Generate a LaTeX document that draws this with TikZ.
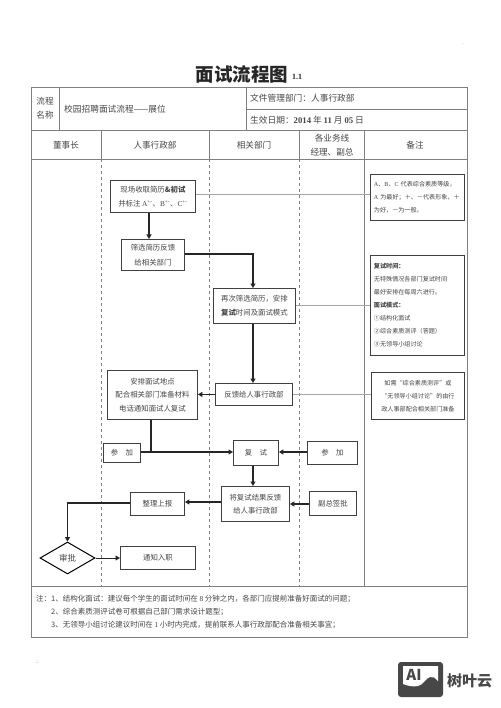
\documentclass[tikz,border=0pt]{standalone}
\usepackage{fontspec}
\setmainfont{Noto Sans CJK SC}
\newfontfamily\latinf{Liberation Serif}
\usetikzlibrary{arrows.meta,shapes.geometric}
\definecolor{ink}{gray}{0.27}
\definecolor{rule}{gray}{0.50}
\newcommand{\gradesup}{\textsuperscript{\latinf +-}}
\tikzset{
  cell/.style={text=ink,font=\fontsize{8.6}{10}\selectfont,align=center,inner sep=0pt},
  leftcell/.style={text=ink,font=\fontsize{8.7}{10}\selectfont,align=left,anchor=west,inner sep=0pt},
  flowbox/.style={draw=black!75,line width=0.9pt,fill=white,text=ink,font=\fontsize{7.4}{13.5}\selectfont,align=center,inner sep=0pt,anchor=north west},
  notebox/.style={draw=black!75,line width=0.9pt,fill=white,text=ink,font=\fontsize{6.1}{13}\selectfont,align=left,inner sep=0pt,anchor=north west},
  tab/.style={draw=rule,line width=0.8pt},
  lane/.style={draw=rule,line width=0.8pt,dash pattern=on 3pt off 3pt},
  flow/.style={draw=black!85,line width=1.2pt,-{Triangle[length=4.5pt,width=5pt]}},
  plainflow/.style={draw=black!85,line width=1.2pt},
  guide/.style={draw=black!35,line width=0.5pt},
  footnotetext/.style={anchor=west,inner sep=0pt,text=ink,font=\fontsize{7.5}{9}\selectfont},
}
\begin{document}
\begin{tikzpicture}[x=1pt,y=-1pt]
\useasboundingbox (0,0) rectangle (500,708);
% title
\node[inner sep=0pt,text=black!85,font=\fontsize{18.5}{20}\bfseries\selectfont] (title) at (242,74) {面试流程图};
\node[inner sep=0pt,anchor=west,text=black!85,font=\fontsize{8}{9}\bfseries\latinf\selectfont] (ver) at (292,77) {1.1};
% table
\draw[tab] (31,87) rectangle (467,637);
\draw[tab] (31,130) -- (467,130);
\draw[tab] (31,159) -- (467,159);
\draw[tab] (31,586) -- (467,586);
\draw[tab] (59,87) -- (59,130);
\draw[tab] (246,87) -- (246,130);
\draw[tab] (246,109) -- (467,109);
\draw[tab] (101,130) -- (101,159);
\draw[tab] (209,130) -- (209,159);
\draw[tab] (299,130) -- (299,159);
\draw[tab] (364,130) -- (364,586);
\draw[lane] (101,159) -- (101,586);
\draw[lane] (209,159) -- (209,586);
\draw[lane] (299,159) -- (299,586);
% header cells
\node[cell,font=\fontsize{8.6}{14}\selectfont] (h0) at (45,108.5) {流程\\名称};
\node[leftcell] (h1) at (64,109) {校园招聘面试流程——展位};
\node[leftcell] (h2) at (250,98) {文件管理部门：人事行政部};
\node[leftcell] (h3) at (250,120) {生效日期：{\latinf\bfseries 2014} 年 {\latinf\bfseries 11} 月 {\latinf\bfseries 05} 日};
\node[cell] (c1) at (66,145) {董事长};
\node[cell] (c2) at (155,145) {人事行政部};
\node[cell] (c3) at (254,145) {相关部门};
\node[cell,font=\fontsize{8.6}{14}\selectfont] (c4) at (332,145) {各业务线\\经理、副总};
\node[cell] (c5) at (415,145) {备注};
% flow boxes
\node[flowbox,minimum width=85pt,minimum height=32pt] (b1) at (110,180) {现场收取简历\textbf{\&初试}\\并标注 {\latinf A}\gradesup、{\latinf B}\gradesup、{\latinf C}\gradesup};
\node[flowbox,minimum width=63pt,minimum height=31pt,font=\fontsize{7.4}{15}\selectfont] (b2) at (121,239) {筛选简历反馈\\给相关部门};
\node[flowbox,minimum width=82pt,minimum height=35pt] (b3) at (213,288) {再次筛选简历，安排\\\textbf{复试}时间及面试模式};
\node[flowbox,minimum width=77pt,minimum height=22pt] (b4) at (215,383) {反馈给人事行政部};
\node[flowbox,minimum width=90pt,minimum height=49pt] (b5) at (107,370) {安排面试地点\\配合相关部门准备材料\\电话通知面试人复试};
\node[flowbox,minimum width=37pt,minimum height=19pt] (b6) at (103,443) {参\quad 加};
\node[flowbox,minimum width=45pt,minimum height=25pt] (b7) at (233,440) {复\quad 试};
\node[flowbox,minimum width=50pt,minimum height=23pt] (b8) at (307,441) {参\quad 加};
\node[flowbox,minimum width=68pt,minimum height=35pt] (b9) at (221,486) {将复试结果反馈\\给人事行政部};
\node[flowbox,minimum width=54pt,minimum height=23pt] (b10) at (130,492) {整理上报};
\node[flowbox,minimum width=47pt,minimum height=24pt] (b11) at (309,491) {副总签批};
\node[diamond,draw=black,line width=1pt,fill=white,minimum width=55pt,minimum height=32pt,inner sep=0pt,text=ink,font=\fontsize{8.5}{10}\selectfont] (d1) at (67.5,558) {审批};
\node[flowbox,minimum width=75pt,minimum height=23pt] (b12) at (120,546) {通知入职};
% note boxes
\node[notebox,minimum width=94pt,minimum height=46pt,text width=87pt,align=left,inner xsep=3.5pt] (n1) at (370,174) {{\latinf A}、{\latinf B}、{\latinf C} 代表综合素质等级，\\{\latinf A} 为最好；＋、－代表形象，＋\\为好，－为一般。};
\node[notebox,minimum width=94pt,minimum height=100pt,text width=87pt,inner xsep=3.5pt] (n2) at (370,255) {\textbf{复试时间：}\\无特殊情况各部门复试时间\\最好安排在每周六进行。\\\textbf{面试模式：}\\①结构化面试\\②综合素质测评（答题）\\③无领导小组讨论};
\node[notebox,minimum width=93pt,minimum height=47pt,align=center] (n3) at (371,372) {如需“综合素质测评”或\\“无领导小组讨论”的由行\\政人事部配合相关部门准备};
% guide lines
\draw[guide] (b1.east |- 0,194) -- (n1.west |- 0,194);
\draw[guide] (b3.east |- 0,305) -- (n2.west |- 0,305);
\draw[guide] (b4.east) -- (n3.west |- b4.east);
% connectors
\coordinate (j1) at (151,452);
\coordinate (k2) at (253,254);
\draw[flow] (b1.south -| 149,0) -- (b2.north -| 149,0);
\draw[flow] (b2.east |- k2) -- (k2) -- (k2 |- b3.north);
\draw[flow] (k2 |- b3.south) -- (k2 |- b4.north);
\draw[flow] (b4.west) -- (b5.east |- b4.west);
\draw[plainflow] (j1 |- b5.south) -- (j1);
\draw[flow] (b6.east |- j1) -- (b7.west |- j1);
\draw[flow] (b8.west |- j1) -- (b7.east |- j1);
\draw[flow] (k2 |- b7.south) -- (k2 |- b9.north);
\draw[flow] (b9.west |- 0,502) -- (b10.east |- 0,502);
\draw[flow] (b11.west |- 0,504) -- (b9.east |- 0,504);
\draw[flow] (b10.west |- 0,503) -- (67.5,503) -- (d1.north);
\draw[flow,line width=0.8pt] (d1.east) -- (b12.west |- d1.east);
% footnotes
\node[footnotetext] (f1) at (36,599) {注：1、结构化面试：建议每个学生的面试时间在 {\latinf 8} 分钟之内，各部门应提前准备好面试的问题；};
\node[footnotetext] (f2) at (51,611.5) {2、综合素质测评试卷可根据自己部门需求设计题型；};
\node[footnotetext] (f3) at (51,625) {3、无领导小组讨论建议时间在 {\latinf 1} 小时内完成，提前联系人事行政部配合准备相关事宜；};
% specks
\node[inner sep=0pt,text=black!60,font=\fontsize{5}{6}\selectfont] (s1) at (463,44) {.};
\node[inner sep=0pt,text=black!60,font=\fontsize{5}{6}\selectfont] (s2) at (37,662) {.:};
% watermark
\fill[black!72,rounded corners=3pt] (398,662) rectangle (443,697);
\fill[white] (403,666) -- (438,666) -- (438,681) .. controls (435,678) and (433,676) .. (430,677) .. controls (426,678) and (423,685) .. (418,686) .. controls (413,687) and (408,686) .. (403,684) -- cycle;
\node[inner sep=0pt,text=black!72,font=\fontsize{15}{16}\bfseries\selectfont] (ai) at (414,675) {AI};
\node[inner sep=0pt,anchor=west,text=black!72,font=\fontsize{15}{16}\bfseries\selectfont] (wm) at (447,681) {树叶云};
\end{tikzpicture}
\end{document}
